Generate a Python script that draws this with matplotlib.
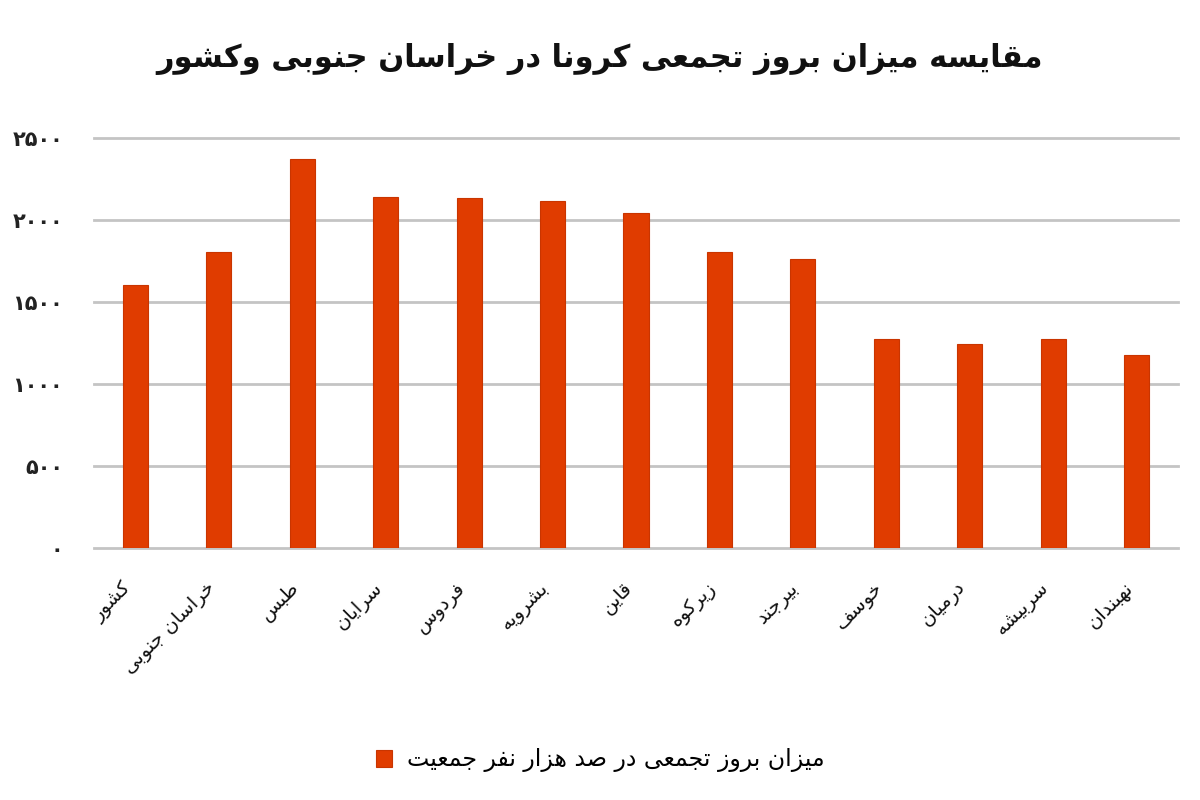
import matplotlib
matplotlib.use("Agg")
import matplotlib.pyplot as plt
import numpy as np

title = "مقایسه میزان بروز تجمعی کرونا در خراسان جنوبی وکشور"
series_name = "میزان بروز تجمعی در صد هزار نفر جمعیت"
regions = ["کشور", "خراسان جنوبی", "طبس", "سرایان", "فردوس", "بشرویه", "قاین",
           "زیرکوه", "بیرجند", "خوسف", "درمیان", "سربیشه", "نهبندان"]
incidence = [1600, 1800, 2370, 2140, 2130, 2115, 2040, 1800, 1760, 1275, 1245, 1275, 1175]
y_ticks = [0, 500, 1000, 1500, 2000, 2500]

# presentation forms: isolated, final, initial, medial
FORMS = {
    "ا": (0xFE8D, 0xFE8E), "د": (0xFEA9, 0xFEAA), "ذ": (0xFEAB, 0xFEAC),
    "ر": (0xFEAD, 0xFEAE), "ز": (0xFEAF, 0xFEB0), "ژ": (0xFB8A, 0xFB8B),
    "و": (0xFEED, 0xFEEE),
    "ب": (0xFE8F, 0xFE90, 0xFE91, 0xFE92), "ت": (0xFE95, 0xFE96, 0xFE97, 0xFE98),
    "ج": (0xFE9D, 0xFE9E, 0xFE9F, 0xFEA0), "ح": (0xFEA1, 0xFEA2, 0xFEA3, 0xFEA4),
    "خ": (0xFEA5, 0xFEA6, 0xFEA7, 0xFEA8), "س": (0xFEB1, 0xFEB2, 0xFEB3, 0xFEB4),
    "ش": (0xFEB5, 0xFEB6, 0xFEB7, 0xFEB8), "ص": (0xFEB9, 0xFEBA, 0xFEBB, 0xFEBC),
    "ط": (0xFEC1, 0xFEC2, 0xFEC3, 0xFEC4), "ع": (0xFEC9, 0xFECA, 0xFECB, 0xFECC),
    "ف": (0xFED1, 0xFED2, 0xFED3, 0xFED4), "ق": (0xFED5, 0xFED6, 0xFED7, 0xFED8),
    "ل": (0xFEDD, 0xFEDE, 0xFEDF, 0xFEE0), "م": (0xFEE1, 0xFEE2, 0xFEE3, 0xFEE4),
    "ن": (0xFEE5, 0xFEE6, 0xFEE7, 0xFEE8), "ه": (0xFEE9, 0xFEEA, 0xFEEB, 0xFEEC),
    "ی": (0xFBFC, 0xFBFD, 0xFBFE, 0xFBFF), "ک": (0xFB8E, 0xFB8F, 0xFB90, 0xFB91),
    "گ": (0xFB92, 0xFB93, 0xFB94, 0xFB95), "پ": (0xFB56, 0xFB57, 0xFB58, 0xFB59),
}


def fa(text):
    out = []
    for i, c in enumerate(text):
        if c not in FORMS:
            out.append(c)
            continue
        prev = text[i - 1] if i > 0 else None
        nxt = text[i + 1] if i + 1 < len(text) else None
        f = FORMS[c]
        join_prev = prev in FORMS and len(FORMS[prev]) == 4
        join_next = nxt in FORMS and len(f) == 4
        if join_prev and join_next:
            code = f[3]
        elif join_prev:
            code = f[1]
        elif join_next:
            code = f[2]
        else:
            code = f[0]
        out.append(chr(code))
    return "".join(reversed(out))


def fa_digits(n):
    return str(n).translate(str.maketrans("0123456789", "۰۱۲۳۴۵۶۷۸۹"))


plt.rcParams["font.family"] = ["DejaVu Sans"]

fig = plt.figure(figsize=(12, 8), dpi=100)
ax = fig.add_axes([0.078, 0.3154, 0.904, 0.5125])

x = np.arange(len(regions))
ax.bar(x, incidence, width=0.3, color="#E03C00", edgecolor="#C93500",
       linewidth=0.8, zorder=3, label=fa(series_name))

ax.set_xlim(-0.5, len(regions) - 0.5)
ax.set_ylim(0, 2500)
ax.set_yticks(y_ticks)
ax.set_yticklabels([fa_digits(v) for v in y_ticks], fontsize=15,
                   fontweight="bold", color="#222222")
ax.set_xticks(x)
ax.set_xticklabels([fa(r) for r in regions], rotation=45, ha="right",
                   va="top", fontsize=14, color="#111111")
ax.tick_params(axis="y", length=0, pad=22)
ax.tick_params(axis="x", length=0, pad=22)
ax.yaxis.grid(True, color="#c4c4c4", linewidth=2, zorder=0)
for gl in ax.get_ygridlines():
    gl.set_clip_on(False)
for s in ax.spines.values():
    s.set_visible(False)

fig.text(0.5, 0.926, fa(title), ha="center", va="center", fontsize=22,
         fontweight="bold", color="#111111")

fig.legend(loc="center", bbox_to_anchor=(0.5, 0.05), frameon=False,
           fontsize=17, handlelength=0.7, handleheight=0.7, handletextpad=0.6)

fig.savefig("out.png", dpi=100)
